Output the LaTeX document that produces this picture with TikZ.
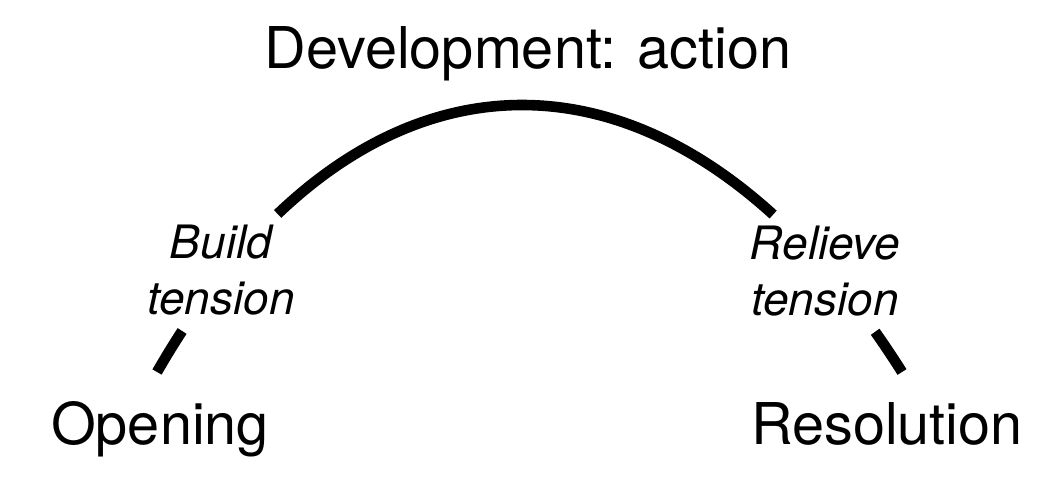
\documentclass[tikz,border=0pt]{standalone}
\usepackage{fontspec}
\setmainfont{TeX Gyre Heros}
\begin{document}
\begin{tikzpicture}[x=0.5pt,y=-0.5pt,
        stage/.style={font=\fontsize{28.8}{34}\selectfont, anchor=base, inner sep=0pt},
        phase/.style={font=\fontsize{23}{28}\selectfont\itshape, align=center, inner sep=0pt},
        arc/.style={line width=5.3pt, dash pattern=on 24.05pt off 75.7pt on 277.35pt off 77.85pt on 60pt off 10pt}]
        \useasboundingbox (0,0) rectangle (1064,478);

        \node[stage] (D) at (528,68) {Development: action};
        \node[stage] (O) at (160,444) {Opening};
        \node[stage] (R) at (887,444) {Resolution};

        \node[phase] (B) at (221,270) {Build\\tension};
        \node[phase] (L) at (825,271) {Relieve\\tension};

        % story arc, broken where the phases sit
        \coordinate (S) at (157,372);
        \coordinate (E) at (902,372);
        \coordinate (c1) at (362,16);
        \coordinate (c2) at (677,16);
        \draw[arc] (S) .. controls (c1) and (c2) .. (E);
\end{tikzpicture}
\end{document}
